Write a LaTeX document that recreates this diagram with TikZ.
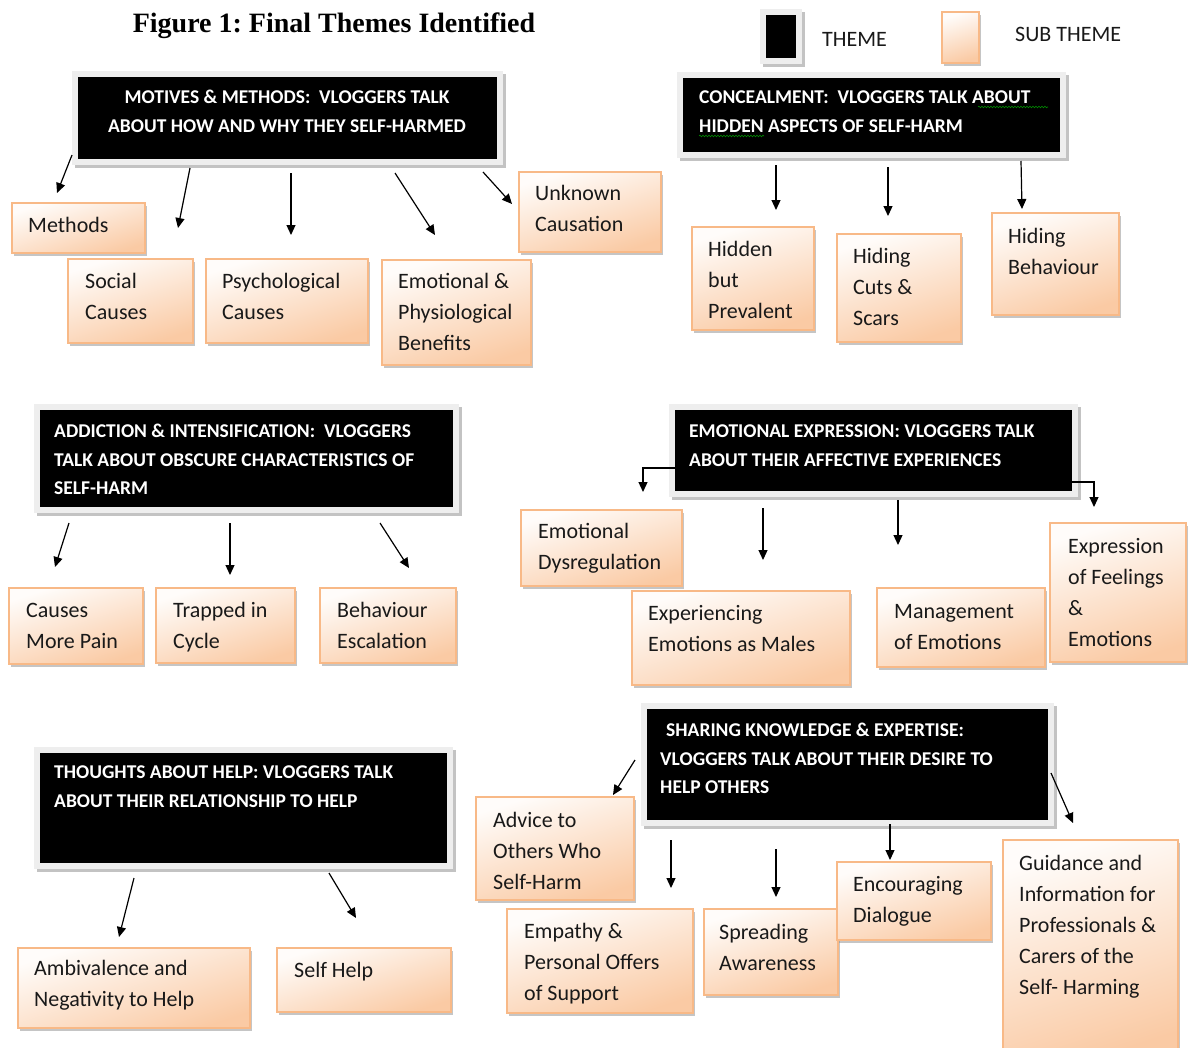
\documentclass[tikz,border=0pt]{standalone}
\usepackage{fontspec}
\setmainfont{Carlito}
\newfontfamily\titlefont{Liberation Serif}
\usetikzlibrary{arrows.meta,shadows,backgrounds,decorations.pathmorphing}
\definecolor{peach}{RGB}{250,202,164}
\definecolor{peachline}{RGB}{248,185,135}
\definecolor{framegray}{RGB}{238,238,238}
\definecolor{framedark}{RGB}{195,195,195}
\definecolor{txt}{RGB}{25,25,25}
\newcommand\subnode[5]{\node[subbox, minimum width={#4pt-#2pt}, minimum height={#5pt-#3pt}] (#1) at (#2,#3) {};}
\newcommand\subtxt[4]{\node[subtext] (#1) at (#2,{#3-14.7}) {\strut #4};}
\newcommand\thnode[5]{\node[themebox, minimum width={#4pt-#2pt}, minimum height={#5pt-#3pt}] (#1) at (#2,#3) {};}
\newcommand\thtxt[4]{\node[themetext] (#1) at (#2,{#3-13.65}) {\strut #4};}
\begin{document}
\begin{tikzpicture}[x=1pt,y=-1pt,
  subbox/.style={draw=peachline, line width=1.3pt, top color=peach!5, bottom color=peach, shading angle=18, anchor=north west, inner sep=0pt, outer sep=0pt, drop shadow={shadow xshift=2pt, shadow yshift=-3pt, fill=black!45, opacity=.5}},
  subtext/.style={anchor=north west, inner sep=0pt, align=left, text=txt, font=\fontsize{22}{31}\selectfont},
  themebox/.style={fill=black, anchor=north west, inner sep=0pt, outer sep=0pt},
  themetext/.style={anchor=north west, inner sep=0pt, align=left, text=white, font=\bfseries\fontsize{19.5}{28.5}\selectfont},
  legtext/.style={anchor=west, inner sep=0pt, text=txt, font=\fontsize{22}{26}\selectfont},
  arr/.style={-{Triangle[length=10pt,width=9pt]}, line width=1.2pt, black},
  squig/.style={draw=green!55!black, line width=0.6pt, decorate, decoration={snake, amplitude=0.8pt, segment length=3pt}},
]
\useasboundingbox (0,0) rectangle (1188,1047);
\clip (0,0) rectangle (1188,1047);

% title and legend
\node[font=\titlefont\bfseries\fontsize{28}{32}\selectfont\frenchspacing, anchor=base, inner sep=0pt] (title) at (334,32) {Figure 1: Final Themes Identified};
\thnode{legth}{766}{15}{796}{58}
\node[legtext] (legthl) at (822,39) {THEME};
\subnode{legsub}{942}{12}{979}{63}
\node[legtext] (legsubl) at (1015,34) {SUB THEME};

% theme boxes
\thnode{mot}{78}{77}{497}{159}
\thnode{con}{683}{78}{1060}{152}
\thnode{add}{40}{410}{453}{507}
\thnode{emo}{675}{410}{1072}{491}
\thnode{sha}{647}{709}{1048}{820}
\thnode{tho}{40}{753}{447}{863}

\begin{scope}[on background layer]
\foreach \n in {legth,mot,con,add,emo,sha,tho}{
  \fill[framedark] ([shift={(-3,-3)}]\n.north west) rectangle ([shift={(9,9)}]\n.south east);
  \fill[framegray] ([shift={(-6,-6)}]\n.north west) rectangle ([shift={(6,6)}]\n.south east);
}
\end{scope}

\node[themetext, anchor=north, align=center] (mott) at (287,{97-13.65}) {\strut MOTIVES \& METHODS:\ \ VLOGGERS TALK\\ABOUT HOW AND WHY THEY SELF-HARMED};
\thtxt{cont}{699}{97}{CONCEALMENT:\ \ VLOGGERS TALK ABOUT\\HIDDEN ASPECTS OF SELF-HARM}
\thtxt{addt}{54}{431}{ADDICTION \& INTENSIFICATION:\ \ VLOGGERS\\TALK ABOUT OBSCURE CHARACTERISTICS OF\\SELF-HARM}
\thtxt{emot}{689}{431}{EMOTIONAL EXPRESSION: VLOGGERS TALK\\ABOUT THEIR AFFECTIVE EXPERIENCES}
\thtxt{shat}{660}{730}{\hspace*{6pt}SHARING KNOWLEDGE \& EXPERTISE:\\VLOGGERS TALK ABOUT THEIR DESIRE TO\\HELP OTHERS}
\thtxt{thot}{54}{772}{THOUGHTS ABOUT HELP: VLOGGERS TALK\\ABOUT THEIR RELATIONSHIP TO HELP}

\draw[squig] ([shift={(295,29)}]con.north west) -- ++(70,0);
\draw[squig] ([shift={(16,58)}]con.north west) -- ++(65,0);

% sub theme boxes
\subnode{methods}{12}{203}{145}{253}
\subnode{social}{68}{259}{193}{343}
\subnode{psych}{206}{259}{368}{343}
\subnode{emophys}{382}{260}{531}{365}
\subnode{unknown}{519}{172}{661}{252}
\subnode{hidden}{692}{227}{814}{330}
\subnode{cuts}{837}{234}{961}{342}
\subnode{hidbeh}{992}{213}{1119}{315}
\subnode{morepain}{9}{588}{143}{664}
\subnode{trapped}{156}{588}{295}{663}
\subnode{escal}{320}{588}{456}{663}
\subnode{dysreg}{521}{510}{682}{586}
\subnode{males}{632}{591}{850}{685}
\subnode{manage}{877}{588}{1045}{667}
\subnode{feelings}{1050}{523}{1186}{662}
\subnode{advice}{476}{797}{634}{900}
\subnode{empathy}{507}{909}{693}{1013}
\subnode{spread}{704}{909}{838}{995}
\subnode{encour}{837}{862}{991}{940}
\subnode{guide}{1003}{840}{1178}{1060}
\subnode{ambiv}{18}{948}{250}{1028}
\subnode{selfhelp}{277}{948}{451}{1012}

\subtxt{methodst}{28}{225}{Methods}
\subtxt{socialt}{85}{281}{Social\\Causes}
\subtxt{psycht}{222}{281}{Psychological\\Causes}
\subtxt{emophyst}{398}{281}{Emotional \&\\Physiological\\Benefits}
\subtxt{unknownt}{535}{193}{Unknown\\Causation}
\subtxt{hiddent}{708}{249}{Hidden\\but\\Prevalent}
\subtxt{cutst}{853}{256}{Hiding\\Cuts \&\\Scars}
\subtxt{hidbeht}{1008}{236}{Hiding\\Behaviour}
\subtxt{morepaint}{26}{610}{Causes\\More Pain}
\subtxt{trappedt}{173}{610}{Trapped in\\Cycle}
\subtxt{escalt}{337}{610}{Behaviour\\Escalation}
\subtxt{dysregt}{538}{531}{Emotional\\Dysregulation}
\subtxt{malest}{648}{613}{Experiencing\\Emotions as Males}
\subtxt{managet}{894}{611}{Management\\of Emotions}
\subtxt{feelingst}{1068}{546}{Expression\\of Feelings\\\&\\Emotions}
\subtxt{advicet}{493}{820}{Advice to\\Others Who\\Self-Harm}
\subtxt{empathyt}{524}{931}{Empathy \&\\Personal Offers\\of Support}
\subtxt{spreadt}{719}{932}{Spreading\\Awareness}
\subtxt{encourt}{853}{884}{Encouraging\\Dialogue}
\subtxt{guidet}{1019}{863}{Guidance and\\Information for\\Professionals \&\\Carers of the\\Self- Harming}
\subtxt{ambivt}{34}{968}{Ambivalence and\\Negativity to Help}
\subtxt{selfhelpt}{294}{970}{Self Help}

% connectors
\draw[arr] ([shift={(-6,78)}]mot.north west) -- ([shift={(45,-10)}]methods.north west);
\draw[arr] ([shift={(112,91)}]mot.north west) -- ([shift={(110,-31)}]social.north west);
\draw[arr] ([shift={(213,96)}]mot.north west) -- ([shift={(85,-24)}]psych.north west);
\draw[arr] ([shift={(317,96)}]mot.north west) -- ([shift={(53,-25)}]emophys.north west);
\draw[arr] ([shift={(405,95)}]mot.north west) -- ([shift={(-7,32)}]unknown.north west);

\draw[arr] ([shift={(93,87)}]con.north west) -- ([shift={(84,-17)}]hidden.north west);
\draw[arr] ([shift={(205,89)}]con.north west) -- ([shift={(51,-18)}]cuts.north west);
\draw[arr] ([shift={(338,83)}]con.north west) -- ([shift={(30,-4)}]hidbeh.north west);

\draw[arr] ([shift={(29,113)}]add.north west) -- ([shift={(46,-21)}]morepain.north west);
\draw[arr] ([shift={(190,113)}]add.north west) -- ([shift={(74,-13)}]trapped.north west);
\draw[arr] ([shift={(340,113)}]add.north west) -- ([shift={(89,-20)}]escal.north west);

\draw[arr] ([shift={(0,58)}]emo.north west) -| ([shift={(122,-18)}]dysreg.north west);
\draw[arr] ([shift={(88,98)}]emo.north west) -- ([shift={(131,-31)}]males.north west);
\draw[arr] ([shift={(223,90)}]emo.north west) -- ([shift={(21,-43)}]manage.north west);
\draw[arr] ([shift={(397,72)}]emo.north west) -| ([shift={(44,-16)}]feelings.north west);

\draw[arr] ([shift={(-12,51)}]sha.north west) -- ([shift={(137,-2)}]advice.north west);
\draw[arr] ([shift={(24,131)}]sha.north west) -- ([shift={(164,-21)}]empathy.north west);
\draw[arr] ([shift={(129,140)}]sha.north west) -- ([shift={(72,-12)}]spread.north west);
\draw[arr] ([shift={(243,115)}]sha.north west) -- ([shift={(53,-2)}]encour.north west);
\draw[arr] ([shift={(404,64)}]sha.north west) -- ([shift={(70,-17)}]guide.north west);

\draw[arr] ([shift={(94,125)}]tho.north west) -- ([shift={(101,-11)}]ambiv.north west);
\draw[arr] ([shift={(289,120)}]tho.north west) -- ([shift={(79,-30)}]selfhelp.north west);
\end{tikzpicture}
\end{document}
